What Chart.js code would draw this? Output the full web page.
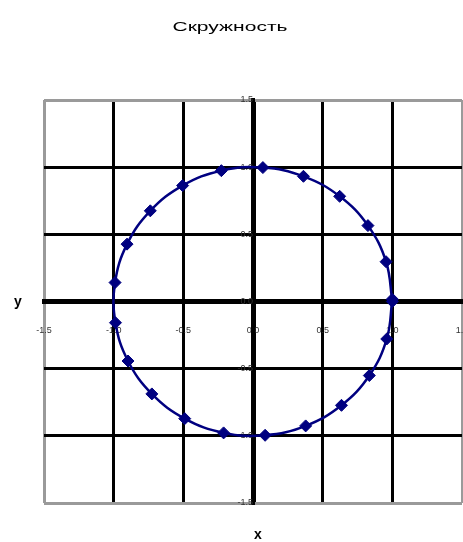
<!DOCTYPE html>
<html>
<head>
<meta charset="utf-8">
<title>Скружность</title>
<script src="https://cdn.jsdelivr.net/npm/chart.js@4"></script>
<style>
  html, body { margin: 0; padding: 0; background: #fff; overflow: hidden; }
  canvas { display: block; }
</style>
</head>
<body>
<!-- a few px wider than the window so the right edge of the plot sits on the border -->
<canvas id="circle-chart" width="469" height="542"></canvas>
<script>
// points on the unit circle, t = 0 .. 6.3, step 0.3
var xs = [1.000, 0.955, 0.825, 0.622, 0.362, 0.071, -0.227, -0.505, -0.737, -0.904, -0.990,
          -0.987, -0.897, -0.726, -0.490, -0.211, 0.087, 0.378, 0.635, 0.835, 0.960, 1.000];
var ys = [0.000, 0.296, 0.565, 0.783, 0.932, 0.997, 0.974, 0.863, 0.675, 0.427, 0.141,
          -0.158, -0.443, -0.688, -0.872, -0.978, -0.996, -0.926, -0.773, -0.551, -0.279, 0.017];
var tickVals = [-1.5, -1.0, -0.5, 0.0, 0.5, 1.0, 1.5];

var chartTitle = 'Скружность';
var xTitle = 'x';
var yTitle = 'y';

var points = xs.map(function(x, i) { return { x: x, y: ys[i] }; });

function gridColor(ctx) {
  var v = ctx.tick ? ctx.tick.value : 0;
  return Math.abs(v) > 1.4 ? '#9a9a9a' : '#000';
}
function gridWidth(ctx) {
  var v = ctx.tick ? ctx.tick.value : 0;
  if (Math.abs(v) < 0.01) return 5;
  return 3;
}

// title and axis letters, drawn by hand like the old spreadsheet chart
var labels = {
  id: 'labels',
  afterDraw: function(chart) {
    var c = chart.ctx;
    c.save();
    c.fillStyle = '#000';
    c.textAlign = 'center';
    c.textBaseline = 'middle';
    c.font = '13px "Liberation Sans", Arial, sans-serif';
    var w = c.measureText(chartTitle).width;
    c.translate(230, 27);
    c.scale(115 / w, 1);
    c.fillText(chartTitle, 0, 0);
    c.restore();

    c.save();
    c.fillStyle = '#000';
    c.textAlign = 'center';
    c.textBaseline = 'middle';
    c.font = 'bold 14px "Liberation Sans", Arial, sans-serif';
    c.fillText(yTitle, 18, 302);
    c.fillText(xTitle, 258, 535);
    c.restore();
  }
};

// centred axes: their labels must not eat into the plot area
function noPad(s) {
  s.paddingLeft = 0;
  s.paddingRight = 0;
  s.paddingTop = 0;
  s.paddingBottom = 0;
}

new Chart(document.getElementById('circle-chart').getContext('2d'), {
  type: 'scatter',
  data: {
    datasets: [{
      data: points,
      showLine: true,
      tension: 0.4,
      borderColor: '#000080',
      backgroundColor: '#000080',
      borderWidth: 2.5,
      pointStyle: 'rectRot',
      pointRadius: 6,
      pointBorderWidth: 1,
      clip: false
    }]
  },
  options: {
    responsive: false,
    animation: false,
    layout: { padding: { left: 44, right: 1, top: 100, bottom: 39 } },
    plugins: { legend: { display: false }, title: { display: false }, tooltip: { enabled: false } },
    scales: {
      x: {
        type: 'linear',
        position: { y: 0 },
        min: -1.5, max: 1.5,
        afterFit: noPad,
        afterBuildTicks: function(s) { s.ticks = tickVals.map(function(v) { return { value: v }; }); },
        grid: { color: gridColor, lineWidth: gridWidth, drawTicks: false },
        border: { display: true, color: '#000', width: 5 },
        ticks: {
          padding: 24,
          color: '#333',
          font: { family: '"Liberation Sans", Arial, sans-serif', size: 9 },
          callback: function(v) { return v.toFixed(1); }
        }
      },
      y: {
        type: 'linear',
        position: { x: 0 },
        min: -1.5, max: 1.5,
        afterFit: noPad,
        afterBuildTicks: function(s) { s.ticks = tickVals.map(function(v) { return { value: v }; }); },
        grid: { color: gridColor, lineWidth: gridWidth, drawTicks: false },
        border: { display: true, color: '#000', width: 4 },
        ticks: {
          padding: 18,
          color: '#333',
          font: { family: '"Liberation Sans", Arial, sans-serif', size: 9 },
          callback: function(v) { return v.toFixed(1); }
        }
      }
    }
  },
  plugins: [labels]
});
</script>
</body>
</html>
